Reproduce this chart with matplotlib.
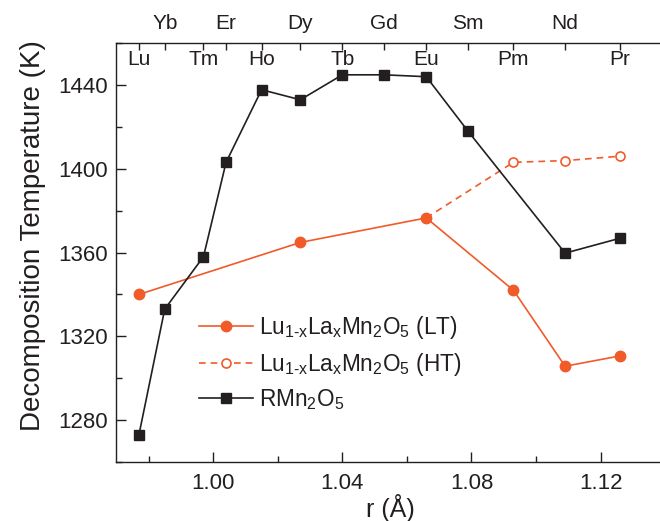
import matplotlib
matplotlib.use("Agg")
import matplotlib.pyplot as plt
from matplotlib.ticker import MultipleLocator

plt.rcParams['font.family'] = ['Liberation Sans', 'DejaVu Sans']
plt.rcParams['mathtext.default'] = 'regular'

# Data
r_black = [0.977, 0.985, 0.997, 1.004, 1.015, 1.027, 1.040, 1.053, 1.066, 1.079, 1.109, 1.126]
t_black = [1273.0, 1333.0, 1358.0, 1403.0, 1437.6, 1432.8, 1444.7, 1444.7, 1443.8, 1417.7, 1359.7, 1366.8]

r_lt = [0.977, 1.027, 1.066, 1.093, 1.109, 1.126]
t_lt = [1340.0, 1364.8, 1376.5, 1342.0, 1305.8, 1310.7]

r_ht = [1.066, 1.093, 1.109, 1.126]
t_ht = [1376.5, 1403.0, 1403.8, 1405.9]

elements = ['Lu', 'Yb', 'Tm', 'Er', 'Ho', 'Dy', 'Tb', 'Gd', 'Eu', 'Sm', 'Pm', 'Nd', 'Pr']
elem_r = [0.977, 0.985, 0.997, 1.004, 1.015, 1.027, 1.040, 1.053, 1.066, 1.079, 1.093, 1.109, 1.126]

orange = '#F15A29'
black = '#231F20'

fig = plt.figure(figsize=(6.60, 5.21), dpi=100)
ax = fig.add_axes([0.1762, 0.1127, 1.0079 - 0.1762, 0.918 - 0.1127])

l_lt, = ax.plot(r_lt, t_lt, '-', color=orange, lw=1.2, marker='o', ms=7.5,
                mfc=orange, mec=orange, zorder=4,
                label='Lu$_{1‐x}$La$_{x}$Mn$_{2}$O$_{5}$ (LT)')
l_ht, = ax.plot(r_ht, t_ht, '--', color=orange, lw=1.2, marker='o', ms=6.5,
                mfc='white', mec=orange, mew=1.2, zorder=3, dashes=(4, 3),
                markevery=[1, 2, 3],
                label='Lu$_{1‐x}$La$_{x}$Mn$_{2}$O$_{5}$ (HT)')
l_bk, = ax.plot(r_black, t_black, '-', color=black, lw=1.2, marker='s', ms=6.5,
                mfc=black, mec=black, zorder=5, label='RMn$_{2}$O$_{5}$')

ax.set_xlim(0.97, 1.14)
ax.set_ylim(1260, 1460)
ax.xaxis.set_major_locator(MultipleLocator(0.04))
ax.xaxis.set_minor_locator(MultipleLocator(0.02))
ax.yaxis.set_major_locator(MultipleLocator(40))
ax.yaxis.set_minor_locator(MultipleLocator(20))
ax.set_xticks([1.00, 1.04, 1.08, 1.12])
ax.set_xticklabels(['1.00', '1.04', '1.08', '1.12'])
ax.tick_params(which='both', direction='in', labelsize=16, colors=black, width=1.0)
ax.tick_params(which='major', length=7)
ax.tick_params(which='minor', length=4)
ax.tick_params(axis='x', pad=8)
ax.tick_params(axis='y', pad=6)
ax.spines['right'].set_visible(False)
for s in ['left', 'bottom', 'top']:
    ax.spines[s].set_linewidth(1.0)
    ax.spines[s].set_color(black)

ax.set_xlabel('r (Å)', fontsize=18, color=black, labelpad=0)
ax.set_ylabel('Decomposition Temperature (K)', fontsize=20, color=black)
ax.yaxis.set_label_coords(-0.128, 0.54)

# top axis with element labels
ax2 = ax.twiny()
ax2.set_xlim(ax.get_xlim())
ax2.set_xticks(elem_r)
ax2.set_xticklabels([])
ax2.tick_params(axis='x', direction='in', length=5, width=1.0, colors=black)
for s in ax2.spines.values():
    s.set_visible(False)
trans = ax.get_xaxis_transform()
for i, (name, rv) in enumerate(zip(elements, elem_r)):
    if i % 2 == 0:
        ax.text(rv, 0.982, name, transform=trans, ha='center', va='top', fontsize=15, color=black)
    else:
        ax.text(rv, 1.024, name, transform=trans, ha='center', va='bottom', fontsize=15, color=black)

leg = ax.legend(handles=[l_lt, l_ht, l_bk], loc='upper left', bbox_to_anchor=(0.1507, 0.353),
                frameon=False, fontsize=16.3, handlelength=2.4, handletextpad=0.27,
                labelspacing=0.42, borderaxespad=0, borderpad=0)
for t in leg.get_texts():
    t.set_color(black)

fig.savefig('out.png', dpi=100)
